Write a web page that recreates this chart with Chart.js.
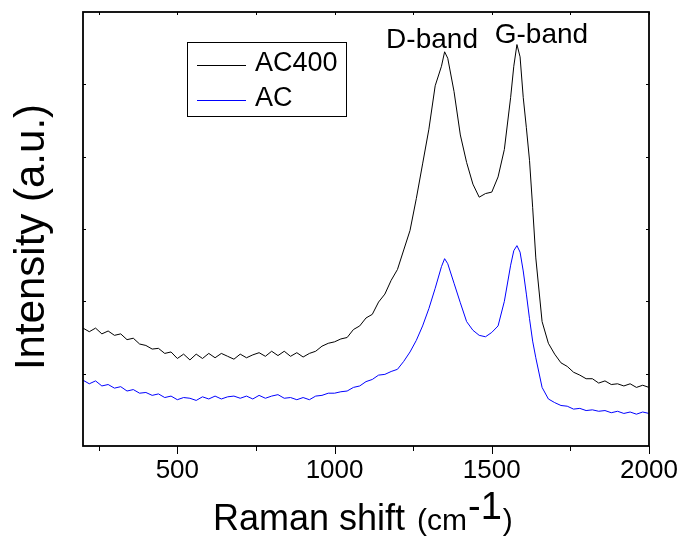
<!DOCTYPE html>
<html>
<head>
<meta charset="utf-8">
<script src="https://cdn.jsdelivr.net/npm/chart.js@4.4.1/dist/chart.umd.min.js"></script>
<style>
  html, body { margin: 0; padding: 0; background: #fff; }
  #wrap { width: 681px; height: 540px; }
</style>
</head>
<body>
<div id="wrap"><canvas id="raman"></canvas></div>
<script>
// Raman spectra (arbitrary intensity units, 0-6 axis)
const ramanShift = [
  200, 220, 240, 260, 280, 300, 320, 340, 360, 380,
  400, 420, 440, 460, 480, 500, 520, 540, 560, 580,
  600, 620, 640, 660, 680, 700, 720, 740, 760, 780,
  800, 820, 840, 860, 880, 900, 920, 940, 960, 980,
  1000, 1020, 1040, 1060, 1080, 1100, 1120, 1140, 1160, 1180,
  1200, 1220, 1240, 1260, 1280, 1300, 1320, 1340, 1350, 1360, 1380,
  1400, 1420, 1440, 1460, 1480, 1500, 1520, 1540, 1560, 1570, 1580, 1590,
  1600, 1610, 1620, 1630, 1640, 1660, 1680, 1700, 1720, 1740, 1760, 1780,
  1800, 1820, 1840, 1860, 1880, 1900, 1920, 1940, 1960, 1980, 2000
];

const ac400 = [
  1.63, 1.58, 1.63, 1.55, 1.59, 1.53, 1.55, 1.47, 1.49, 1.41,
  1.39, 1.34, 1.35, 1.28, 1.30, 1.21, 1.27, 1.19, 1.27, 1.21,
  1.28, 1.22, 1.28, 1.24, 1.20, 1.27, 1.22, 1.26, 1.29, 1.24,
  1.31, 1.25, 1.31, 1.24, 1.29, 1.23, 1.28, 1.31, 1.38, 1.42,
  1.44, 1.48, 1.50, 1.61, 1.66, 1.77, 1.82, 1.99, 2.10, 2.29,
  2.44, 2.71, 2.98, 3.42, 3.90, 4.38, 4.98, 5.25, 5.45, 5.36, 4.90,
  4.30, 3.92, 3.62, 3.44, 3.49, 3.51, 3.72, 4.10, 4.82, 5.25, 5.55, 5.38,
  4.82, 4.40, 3.95, 3.30, 2.60, 1.72, 1.42, 1.27, 1.15, 1.10, 1.02, 0.98,
  0.93, 0.93, 0.87, 0.90, 0.85, 0.86, 0.83, 0.86, 0.81, 0.84, 0.81
];

const ac = [
  0.91, 0.86, 0.90, 0.83, 0.85, 0.80, 0.82, 0.76, 0.78, 0.73,
  0.74, 0.70, 0.72, 0.67, 0.69, 0.64, 0.67, 0.66, 0.63, 0.68,
  0.65, 0.69, 0.65, 0.68, 0.69, 0.66, 0.69, 0.65, 0.70, 0.66,
  0.69, 0.71, 0.66, 0.67, 0.64, 0.67, 0.64, 0.69, 0.70, 0.73,
  0.73, 0.75, 0.76, 0.81, 0.83, 0.89, 0.92, 0.98, 0.99, 1.03,
  1.06, 1.17, 1.30, 1.46, 1.66, 1.90, 2.18, 2.48, 2.59, 2.52, 2.25,
  1.98, 1.72, 1.60, 1.53, 1.51, 1.57, 1.66, 2.00, 2.50, 2.70, 2.77, 2.68,
  2.42, 2.10, 1.76, 1.45, 1.22, 0.81, 0.65, 0.60, 0.56, 0.55, 0.51, 0.52,
  0.49, 0.50, 0.48, 0.49, 0.46, 0.48, 0.45, 0.47, 0.44, 0.47, 0.45
];

const xMajorTicks = [500, 1000, 1500, 2000];
const xMinorTicks = [250, 750, 1250, 1750];
const yTicks = [1, 2, 3, 4, 5];

// band labels: [text, centre shift, baseline intensity]
const bandLabels = [
  ['D-band', 1310, 5.50],
  ['G-band', 1658, 5.57]
];

const FONT = "'Liberation Sans', Arial, sans-serif";

function toPoints(ys) {
  return ys.map((y, i) => ({ x: ramanShift[i], y }));
}

// frame, tick marks, axis titles, band labels and boxed legend
const decorPlugin = {
  id: 'decor',
  afterDraw(chart) {
    const { ctx, chartArea: a, scales: { x, y } } = chart;
    ctx.save();
    ctx.strokeStyle = '#000';
    ctx.lineWidth = 1.8;
    ctx.strokeRect(a.left, a.top, a.right - a.left, a.bottom - a.top);

    ctx.lineWidth = 1;
    ctx.beginPath();
    xMajorTicks.concat(xMinorTicks).forEach(v => {
      const px = Math.round(x.getPixelForValue(v)) + 0.5;
      const len = xMajorTicks.includes(v) ? 8 : 5;
      ctx.moveTo(px, a.bottom); ctx.lineTo(px, a.bottom + len);
      ctx.moveTo(px, a.top); ctx.lineTo(px, a.top + 3);
    });
    yTicks.forEach(v => {
      const py = Math.round(y.getPixelForValue(v)) + 0.5;
      ctx.moveTo(a.left, py); ctx.lineTo(a.left + 3, py);
      ctx.moveTo(a.right, py); ctx.lineTo(a.right - 3, py);
    });
    ctx.stroke();

    // band labels
    ctx.fillStyle = '#000';
    ctx.font = '28px ' + FONT;
    ctx.textAlign = 'center';
    ctx.textBaseline = 'alphabetic';
    bandLabels.forEach(([t, sx, sy]) => {
      ctx.fillText(t, x.getPixelForValue(sx), y.getPixelForValue(sy));
    });

    // x title: Raman shift (cm-1)
    ctx.textAlign = 'left';
    let cx = 213;
    const base = 530;
    ctx.font = '36px ' + FONT;
    ctx.fillText('Raman shift ', cx, base);
    cx += ctx.measureText('Raman shift ').width + 2;
    ctx.font = '30px ' + FONT;
    ctx.fillText('(cm', cx, base);
    cx += ctx.measureText('(cm').width + 1;
    ctx.font = '38px ' + FONT;
    ctx.fillText('-1', cx, base - 11);
    cx += ctx.measureText('-1').width + 1;
    ctx.font = '30px ' + FONT;
    ctx.fillText(')', cx, base);

    // y title
    ctx.save();
    ctx.translate(32, 237);
    ctx.rotate(-Math.PI / 2);
    ctx.textAlign = 'center';
    ctx.textBaseline = 'middle';
    ctx.font = '42px ' + FONT;
    ctx.fillText('Intensity (a.u.)', 0, 0);
    ctx.restore();

    // legend box
    ctx.lineWidth = 1;
    ctx.strokeRect(187.5, 42.5, 159, 74);
    ctx.font = '27px ' + FONT;
    ctx.textAlign = 'left';
    ctx.textBaseline = 'middle';
    chart.data.datasets.forEach((ds, i) => {
      const ly = 65 + i * 35;
      ctx.strokeStyle = ds.borderColor;
      ctx.beginPath();
      ctx.moveTo(197, ly + 0.5); ctx.lineTo(246, ly + 0.5);
      ctx.stroke();
      ctx.fillStyle = '#000';
      ctx.fillText(ds.label, 255, ly - 1);
    });
    ctx.restore();
  }
};

new Chart(document.getElementById('raman'), {
  type: 'line',
  data: {
    datasets: [
      { label: 'AC400', data: toPoints(ac400), borderColor: '#000000', borderWidth: 1, pointRadius: 0, tension: 0 },
      { label: 'AC', data: toPoints(ac), borderColor: '#0000ff', borderWidth: 1, pointRadius: 0, tension: 0 }
    ]
  },
  options: {
    responsive: true,
    maintainAspectRatio: false,
    animation: false,
    layout: { padding: { left: 0, right: 32, top: 12, bottom: 0 } },
    plugins: { legend: { display: false }, tooltip: { enabled: false } },
    scales: {
      x: {
        type: 'linear',
        min: 200, max: 2000,
        afterFit(scale) {
          scale.height = 94;
          scale.paddingLeft = 0;
          scale.paddingRight = 0;
        },
        grid: { display: false, drawTicks: false },
        border: { display: false },
        afterBuildTicks(scale) { scale.ticks = xMajorTicks.map(v => ({ value: v })); },
        ticks: {
          color: '#000',
          padding: 9,
          font: { family: FONT, size: 26 },
          callback: v => String(v)
        }
      },
      y: {
        min: 0, max: 6,
        afterFit(scale) { scale.width = 83; },
        grid: { display: false, drawTicks: false },
        border: { display: false },
        ticks: { display: false }
      }
    }
  },
  plugins: [decorPlugin]
});
</script>
</body>
</html>
